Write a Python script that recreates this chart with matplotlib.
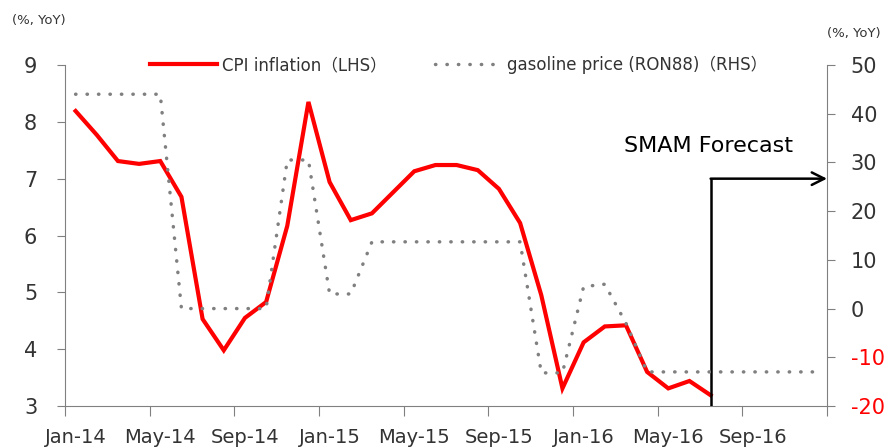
import matplotlib
matplotlib.use("Agg")
import matplotlib.pyplot as plt

# monthly data, Jan-14 .. Dec-16
months = ["Jan-14", "May-14", "Sep-14", "Jan-15", "May-15", "Sep-15", "Jan-16", "May-16", "Sep-16"]
cpi = [8.19, 7.77, 7.31, 7.26, 7.31, 6.68, 4.53, 3.98, 4.55, 4.83, 6.17, 8.35,
       6.94, 6.27, 6.39, 6.76, 7.13, 7.24, 7.24, 7.15, 6.82, 6.22, 4.95, 3.31,
       4.12, 4.40, 4.42, 3.60, 3.31, 3.44, 3.19]
gas = [44, 44, 44, 44, 44, 0, 0, 0, 0, 0, 30.5, 30.5,
       3, 3, 13.7, 13.7, 13.7, 13.7, 13.7, 13.7, 13.7, 13.7, -13.2, -13.2,
       4.5, 5, -3, -13, -13, -13, -13, -13, -13, -13, -13, -13]
forecast_start = 30
forecast_level = 7.0

fam = ["DejaVu Sans", "Noto Sans CJK JP"]
plt.rcParams["font.family"] = fam
plt.rcParams["axes.unicode_minus"] = False
txt = "#333333"
grey = "#808080"

fig = plt.figure(figsize=(8.87, 4.47), dpi=100)
ax = fig.add_axes([0.0733, 0.0917, 0.8591, 0.7629])
ax2 = ax.twinx()

l1, = ax.plot(range(len(cpi)), cpi, color="#ff0000", lw=3, solid_joinstyle="miter",
              label="CPI inflation（LHS）")
l2, = ax2.plot(range(len(gas)), gas, color=grey, lw=2.5, linestyle=(0, (0.1, 3.2)),
               dash_capstyle="round", label="gasoline price (RON88)（RHS）")

ax.set_xlim(-0.5, 35.5)
ax.set_ylim(3, 9)
ax2.set_ylim(-20, 50)
ax.set_yticks(range(3, 10))
ax2.set_yticks(range(-20, 51, 10))

ax.set_xticks([i - 0.5 for i in range(0, 37, 4)])
ax.set_xticklabels([])
ax.set_xticks(list(range(0, 36, 4)), minor=True)
ax.set_xticklabels(months, minor=True)
ax.tick_params(axis="x", which="major", length=7, color=grey, direction="out")
ax.tick_params(axis="x", which="minor", length=0, pad=16, labelsize=14, labelcolor=txt)
ax.tick_params(axis="y", length=6, color=grey, pad=14, labelsize=15, labelcolor=txt)
ax2.tick_params(axis="y", length=6, color=grey, pad=11, labelsize=15, labelcolor=txt)

for a in (ax, ax2):
    a.spines["top"].set_visible(False)
    for s in ("left", "right", "bottom"):
        a.spines[s].set_color(grey)
ax2.spines["left"].set_visible(False)
ax2.spines["bottom"].set_visible(False)
ax.spines["right"].set_visible(False)

for lab, v in zip(ax2.get_yticklabels(), range(-20, 51, 10)):
    if v < 0:
        lab.set_color("#ff0000")

# forecast marker
ax.plot([forecast_start, forecast_start], [3, forecast_level], color="black", lw=1.8, zorder=5)
ax.annotate("", xy=(35.5, forecast_level), xytext=(forecast_start, forecast_level),
            arrowprops=dict(arrowstyle="->,head_length=0.9,head_width=0.45", color="black", lw=1.8,
                            shrinkA=0, shrinkB=0), zorder=5, annotation_clip=False)
ax.text(29.9, 7.58, "SMAM Forecast", fontsize=16, ha="center", va="center", color="black")

fig.text(0.013, 0.955, "(%, YoY)", fontsize=9.5, color=txt, va="center")
fig.text(0.993, 0.926, "(%, YoY)", fontsize=9.5, color=txt, va="center", ha="right")

fig.legend(handles=[l1, l2], loc="center", bbox_to_anchor=(0.517, 0.855), ncol=2,
           frameon=False, fontsize=12, handlelength=4, handletextpad=0.3,
           columnspacing=2.9, labelcolor=txt)

fig.savefig("out.png", dpi=100)
